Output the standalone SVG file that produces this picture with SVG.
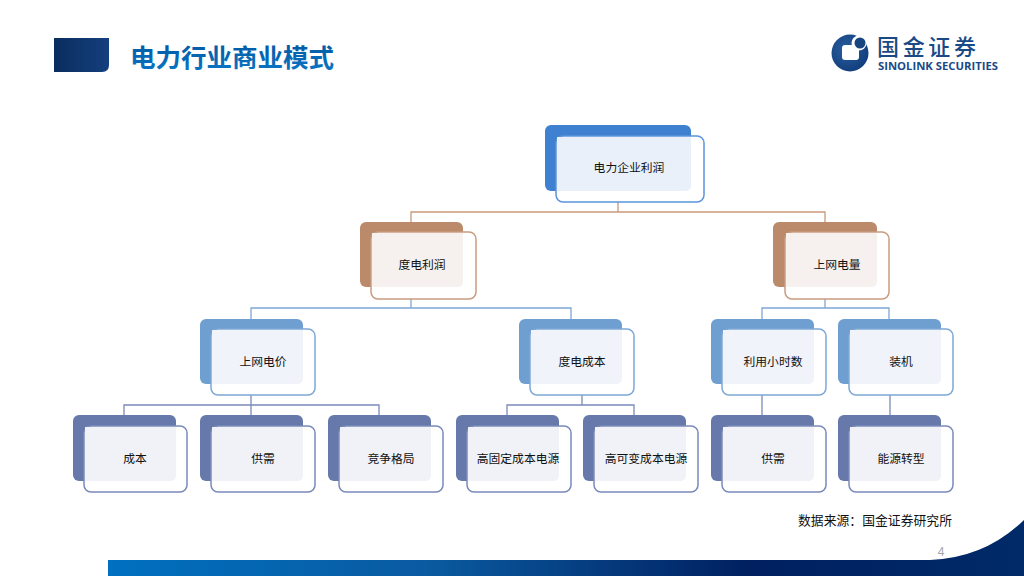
<svg xmlns="http://www.w3.org/2000/svg" width="1024" height="576" viewBox="0 0 1024 576">
<style>
.t{font-family:"Noto Sans CJK SC","Liberation Sans",sans-serif;font-size:11.8px;fill:#111;text-anchor:middle}
.bk{stroke:none}
.fr{stroke-width:1.5;fill:#fff}
.a .bk{fill:#4080d0}.a .fr{stroke:#5a94dc}.a .ov{fill:#e9f0f9}
.b .bk{fill:#bb8a6a}.b .fr{stroke:#c99c80}.b .ov{fill:#f6f1ee}
.d .bk{fill:#6f9fd0}.d .fr{stroke:#7ea8d6}.d .ov{fill:#f0f3f9}
.e .bk{fill:#6779aa}.e .fr{stroke:#7a8abb}.e .ov{fill:#f0f2f8}
</style>
<defs>
<linearGradient id="hd" x1="0" x2="1" y1="0" y2="0"><stop offset="0" stop-color="#0a2d5e"/><stop offset="1" stop-color="#143f7e"/></linearGradient>
<linearGradient id="bar" x1="0" x2="1" y1="0" y2="0"><stop offset="0" stop-color="#0070c0"/><stop offset=".35" stop-color="#0a5aa0"/><stop offset=".7" stop-color="#002060"/><stop offset="1" stop-color="#002a68"/></linearGradient>
<linearGradient id="ttl" x1="0" x2="0" y1="0" y2="1"><stop offset="0" stop-color="#00549c"/><stop offset="1" stop-color="#0a78c8"/></linearGradient>
<radialGradient id="lg" cx=".4" cy=".4" r=".7"><stop offset="0" stop-color="#2a5fa0"/><stop offset="1" stop-color="#0f3a78"/></radialGradient>
</defs>
<g id="header">
<path d="M54 38H109V65Q109 72 102 72H54Z" fill="url(#hd)"/>
<text x="130" y="67" font-family="'Noto Sans CJK SC','Liberation Sans',sans-serif" font-size="25.5" font-weight="700" fill="url(#ttl)">电力行业商业模式</text>
</g>
<g id="logo">
<circle cx="850" cy="53" r="18.5" fill="url(#lg)"/>
<rect x="842" y="45" width="17" height="15" rx="3" fill="#fff"/>
<circle cx="859" cy="43" r="7.5" fill="#fff"/>
<circle cx="860" cy="43" r="5.5" fill="#17457f"/>
<text x="877" y="55" font-family="'Noto Sans CJK SC',sans-serif" font-size="22" font-weight="500" fill="#1a4a86" textLength="99" lengthAdjust="spacing">国金证券</text>
<text x="878" y="70" font-family="'Open Sans','Liberation Sans',sans-serif" font-size="10" font-weight="700" fill="#1a4a86" textLength="120" lengthAdjust="spacingAndGlyphs">SINOLINK SECURITIES</text>
</g>
<g id="connectors">
<path d="M618 202V212M411 222V212H825V222" stroke="#c9997c" fill="none" stroke-width="1.3"/>
<path d="M411 299V308M251 319V308H571V319M825 299V308M762 319V308H889V319" stroke="#7ea8d6" fill="none" stroke-width="1.3"/>
<path d="M251 395V415M124 415V405H379V415M582 395V405M507 415V405H634V415M762 395V415M890 395V415" stroke="#7a8abb" fill="none" stroke-width="1.3"/>
</g>
<g id="n1" class="a"><rect class="bk" x="545" y="125" width="146" height="66" rx="6"/><rect class="fr" x="556" y="136" width="148" height="66" rx="7"/><path class="ov" d="M557 137H691V185Q691 191 685 191H557Z"/><text class="t" x="629" y="172">电力企业利润</text></g>
<g id="n2" class="b"><rect class="bk" x="360" y="222" width="103" height="65" rx="6"/><rect class="fr" x="371" y="232" width="105" height="67" rx="7"/><path class="ov" d="M372 233H463V281Q463 287 457 287H372Z"/><text class="t" x="422" y="269">度电利润</text></g>
<g id="n3" class="b"><rect class="bk" x="773" y="222" width="104" height="65" rx="6"/><rect class="fr" x="785" y="232" width="104" height="67" rx="7"/><path class="ov" d="M786 233H877V281Q877 287 871 287H786Z"/><text class="t" x="837" y="269">上网电量</text></g>
<g id="n4" class="d"><rect class="bk" x="200" y="319" width="103" height="65" rx="6"/><rect class="fr" x="211" y="329" width="104" height="66" rx="7"/><path class="ov" d="M212 330H303V378Q303 384 297 384H212Z"/><text class="t" x="263" y="366">上网电价</text></g>
<g id="n5" class="d"><rect class="bk" x="519" y="319" width="103" height="65" rx="6"/><rect class="fr" x="530" y="329" width="104" height="66" rx="7"/><path class="ov" d="M531 330H622V378Q622 384 616 384H531Z"/><text class="t" x="582" y="366">度电成本</text></g>
<g id="n6" class="d"><rect class="bk" x="711" y="319" width="103" height="65" rx="6"/><rect class="fr" x="722" y="329" width="104" height="66" rx="7"/><path class="ov" d="M723 330H814V378Q814 384 808 384H723Z"/><text class="t" x="773" y="366">利用小时数</text></g>
<g id="n7" class="d"><rect class="bk" x="838" y="319" width="103" height="65" rx="6"/><rect class="fr" x="849" y="329" width="104" height="66" rx="7"/><path class="ov" d="M850 330H941V378Q941 384 935 384H850Z"/><text class="t" x="901" y="366">装机</text></g>
<g id="n8" class="e"><rect class="bk" x="73" y="415" width="103" height="66" rx="6"/><rect class="fr" x="84" y="426" width="103" height="66" rx="7"/><path class="ov" d="M85 427H176V475Q176 481 170 481H85Z"/><text class="t" x="135" y="463">成本</text></g>
<g id="n9" class="e"><rect class="bk" x="200" y="415" width="103" height="66" rx="6"/><rect class="fr" x="211" y="426" width="104" height="66" rx="7"/><path class="ov" d="M212 427H303V475Q303 481 297 481H212Z"/><text class="t" x="263" y="463">供需</text></g>
<g id="n10" class="e"><rect class="bk" x="328" y="415" width="103" height="66" rx="6"/><rect class="fr" x="339" y="426" width="104" height="66" rx="7"/><path class="ov" d="M340 427H431V475Q431 481 425 481H340Z"/><text class="t" x="391" y="463">竞争格局</text></g>
<g id="n11" class="e"><rect class="bk" x="456" y="415" width="103" height="66" rx="6"/><rect class="fr" x="467" y="426" width="104" height="66" rx="7"/><path class="ov" d="M468 427H559V475Q559 481 553 481H468Z"/><text class="t" x="518" y="463">高固定成本电源</text></g>
<g id="n12" class="e"><rect class="bk" x="583" y="415" width="103" height="66" rx="6"/><rect class="fr" x="594" y="426" width="104" height="66" rx="7"/><path class="ov" d="M595 427H686V475Q686 481 680 481H595Z"/><text class="t" x="646" y="463">高可变成本电源</text></g>
<g id="n13" class="e"><rect class="bk" x="711" y="415" width="103" height="66" rx="6"/><rect class="fr" x="722" y="426" width="104" height="66" rx="7"/><path class="ov" d="M723 427H814V475Q814 481 808 481H723Z"/><text class="t" x="773" y="463">供需</text></g>
<g id="n14" class="e"><rect class="bk" x="838" y="415" width="103" height="66" rx="6"/><rect class="fr" x="849" y="426" width="104" height="66" rx="7"/><path class="ov" d="M850 427H941V475Q941 481 935 481H850Z"/><text class="t" x="901" y="463">能源转型</text></g>
<g id="footer">
<path d="M108 560H930Q985 558 1024 520V576H108Z" fill="url(#bar)"/>
<text x="798" y="525" font-family="'Noto Sans CJK SC',sans-serif" font-size="12.8" fill="#111" textLength="154" lengthAdjust="spacing">数据来源：国金证券研究所</text>
<text x="941" y="556" font-family="'Liberation Sans',sans-serif" font-size="12" fill="#a6a6a6" text-anchor="middle">4</text>
</g>
</svg>
